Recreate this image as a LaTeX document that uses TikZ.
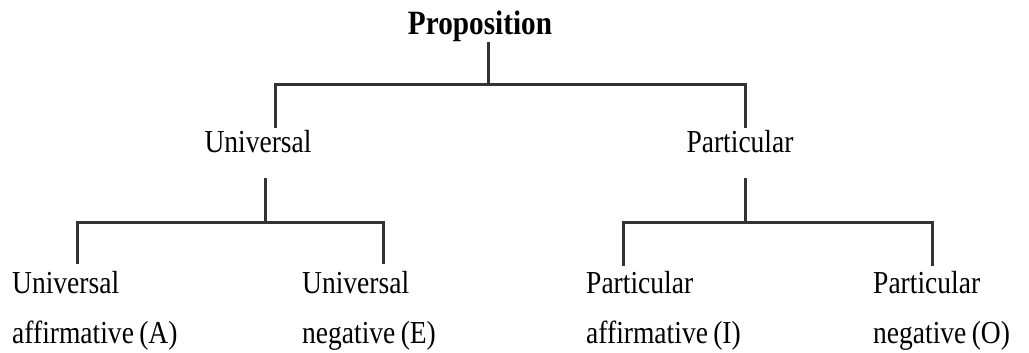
\documentclass[tikz,border=0pt]{standalone}
\usepackage{fontspec}
\setmainfont{Liberation Serif}[FakeStretch=0.86]
\usepackage{tikz}
\usetikzlibrary{positioning}
\definecolor{linegray}{HTML}{333333}
\tikzset{
  conn/.style={draw=linegray,line width=3pt},
  lbl/.style={font=\fontsize{32}{38}\selectfont,text=black,inner sep=0pt},
  toplbl/.style={font=\fontsize{34}{40}\selectfont\bfseries,text=black,inner sep=0pt}
}
\begin{document}
\begin{tikzpicture}[x=1pt,y=-1pt]
\useasboundingbox (0,0) rectangle (1029,353);

\node[toplbl,anchor=base] (prop) at (480,35) {Proposition};
\node[lbl,anchor=base] (univ) at (258,152) {Universal};
\node[lbl,anchor=base] (part) at (740,152) {Particular};

\node[lbl,anchor=base west] (ua) at (12,293) {Universal};
\node[lbl,anchor=base west] (ub) at (12,343) {affirmative\,(A)};
\node[lbl,anchor=base west] (ea) at (302,293) {Universal};
\node[lbl,anchor=base west] (eb) at (302,343) {negative\,(E)};
\node[lbl,anchor=base west] (ia) at (586,293) {Particular};
\node[lbl,anchor=base west] (ib) at (586,343) {affirmative\,(I)};
\node[lbl,anchor=base west] (oa) at (873,293) {Particular};
\node[lbl,anchor=base west] (ob) at (873,343) {negative\,(O)};

% top bracket
\coordinate (p0) at (488,42);
\coordinate (p1) at (488,85);
\draw[conn] (p0) -- (p1);
\draw[conn] (275,128) -- (275,85) -- (745,85) -- (745,128);

% universal bracket
\coordinate (u0) at (265,178);
\coordinate (u1) at (265,222);
\draw[conn] (u0) -- (u1);
\draw[conn] (77,264) -- (77,222) -- (383,222) -- (383,264);

% particular bracket
\coordinate (q0) at (745,178);
\coordinate (q1) at (745,222);
\draw[conn] (q0) -- (q1);
\draw[conn] (623,266) -- (623,222) -- (932,222) -- (932,266);

\end{tikzpicture}
\end{document}
